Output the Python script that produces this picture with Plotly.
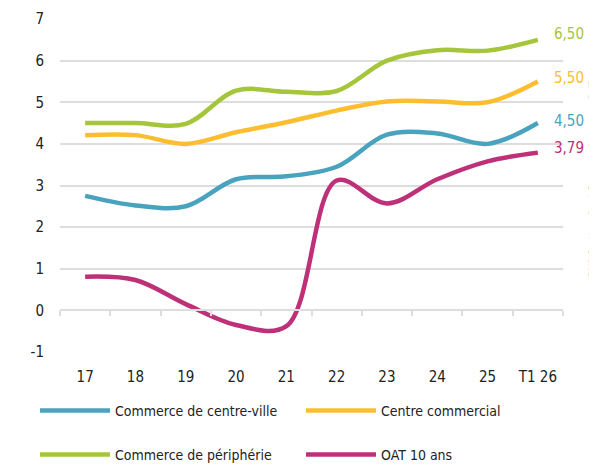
import plotly.graph_objects as go

categories = ["17", "18", "19", "20", "21", "22", "23", "24", "25", "T1 26"]
centre_ville = [2.75, 2.52, 2.5, 3.15, 3.22, 3.45, 4.22, 4.25, 4.0, 4.50]
centre_commercial = [4.21, 4.21, 4.0, 4.28, 4.52, 4.8, 5.02, 5.02, 5.0, 5.50]
peripherie = [4.5, 4.5, 4.48, 5.28, 5.25, 5.27, 6.0, 6.25, 6.24, 6.50]
oat = [0.81, 0.73, 0.15, -0.35, -0.38, 3.12, 2.57, 3.15, 3.58, 3.79]

y_tickvals = [-1, 0, 1, 2, 3, 4, 5, 6, 7]
y_ticktext = ["-1", "0", "1", "2", "3", "4", "5", "6", "7"]

names = ["Commerce de centre-ville", "Centre commercial", "Commerce de périphérie", "OAT 10 ans"]
series = [centre_ville, centre_commercial, peripherie, oat]
colors = ["#4AA3BE", "#FCBE2E", "#A5C63A", "#BE3078"]
legend_ids = ["legend", "legend2", "legend3", "legend4"]
label_shift = [2, 3, 6, 5]

FONT = "DejaVu Sans Condensed, Liberation Sans Narrow, sans-serif"
TXT = "#222222"
GRID = "#DDDDDD"

fig = go.Figure()
for name, vals, col, lg in zip(names, series, colors, legend_ids):
    fig.add_trace(go.Scatter(
        x=categories, y=vals, name=name, mode="lines",
        line=dict(color=col, width=4.5, shape="spline", smoothing=1.0),
        legend=lg, hoverinfo="skip"))

# invisible trace carrying the zero-line axis (ticks at category boundaries)
fig.add_trace(go.Scatter(x=categories, y=oat, xaxis="x2", mode="lines",
                         line=dict(width=0), opacity=0, showlegend=False,
                         hoverinfo="skip"))

for name, vals, col, ys in zip(names, series, colors, label_shift):
    fig.add_annotation(x=categories[-1], y=vals[-1],
                       text=f"{vals[-1]:.2f}".replace(".", ","),
                       showarrow=False, xanchor="left", yanchor="middle",
                       xshift=14, yshift=ys,
                       font=dict(family=FONT, size=15, color=col))

fig.add_annotation(xref="paper", yref="paper", x=1.043, y=0.5,
                   text="© BNP Paribas Real Estate – Sources : BdF",
                   textangle=-90, showarrow=False, xanchor="left", yanchor="middle",
                   font=dict(family=FONT, size=11, color="#333333"))

legend_common = dict(orientation="h", xref="container", yref="container",
                     xanchor="left", yanchor="middle", itemwidth=70,
                     font=dict(family=FONT, size=14, color=TXT),
                     bgcolor="rgba(0,0,0,0)")
row_y = [1 - 403 / 469, 1 - 447 / 469]
col_x = [27 / 597, 293 / 597]

fig.update_layout(
    width=597, height=469,
    margin=dict(l=52, r=42, t=11, b=125, autoexpand=False),
    paper_bgcolor="white", plot_bgcolor="white",
    font=dict(family=FONT, color=TXT, size=15),
    xaxis=dict(type="category", categoryorder="array", categoryarray=categories,
               range=[-0.5, 9.5], showgrid=False, zeroline=False, showline=False,
               ticks="", ticklabelstandoff=14, automargin=False,
               tickfont=dict(family=FONT, size=15, color=TXT)),
    xaxis2=dict(type="category", categoryorder="array", categoryarray=categories,
                range=[-0.5, 9.5], overlaying="x", anchor="free", position=0.125,
                showgrid=False, zeroline=False, showline=True, linecolor=GRID,
                linewidth=1.5, ticks="outside", tickson="boundaries", ticklen=5,
                tickcolor=GRID, tickwidth=1.5, showticklabels=False, automargin=False),
    yaxis=dict(range=[-1, 7], tickmode="array", tickvals=y_tickvals, ticktext=y_ticktext,
               showgrid=True, gridcolor=GRID, gridwidth=1.5, zeroline=False,
               showline=False, ticks="", ticklabelstandoff=15, automargin=False,
               tickfont=dict(family=FONT, size=15, color=TXT)),
    legend=dict(x=col_x[0], y=row_y[0], **legend_common),
    legend2=dict(x=col_x[1], y=row_y[0], **legend_common),
    legend3=dict(x=col_x[0], y=row_y[1], **legend_common),
    legend4=dict(x=col_x[1], y=row_y[1], **legend_common),
    showlegend=True,
)

fig.write_html("out.html")
